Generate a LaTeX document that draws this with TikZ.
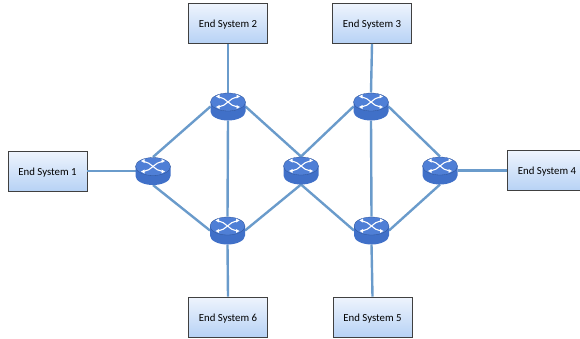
\documentclass[tikz,border=0pt]{standalone}
\usepackage{fontspec}
\setmainfont{Carlito}
\usetikzlibrary{shadows}
\definecolor{linkblue}{HTML}{6A9BCB}
\definecolor{routertop}{HTML}{4F7FD6}
\definecolor{routerside}{HTML}{4070C8}
\definecolor{boxtop}{HTML}{EEF4FD}
\definecolor{boxbot}{HTML}{B7D2F5}
\newcommand{\esys}[1]{\raisebox{0pt}[8.8pt][0pt]{#1}}
\tikzset{
  x=1pt,y=-1pt,
  endsys/.style={draw=black!75,line width=0.9pt,top color=boxtop,bottom color=boxbot,
    minimum width=79pt,minimum height=40pt,inner sep=0pt,font=\fontsize{10.8pt}{12pt}\selectfont,
    text=black,drop shadow={shadow xshift=0.7pt,shadow yshift=-0.7pt,opacity=0.35}},
  routerbox/.style={minimum width=35pt,minimum height=28pt,inner sep=0pt,outer sep=0pt},
  link/.style={draw=linkblue,line width=2.4pt},
  glyph/.style={draw=white,line width=1.1pt,line cap=round},
  router/.pic={
    \fill[routerside] (-17.5,-4.5) -- (-17.5,5) arc[x radius=17.5,y radius=9,start angle=180,end angle=0] -- (17.5,-4.5) -- cycle;
    \draw[black!25!routerside,line width=0.3pt,fill=routertop] (0,-4.5) ellipse[x radius=17.5,y radius=9];
    \draw[glyph] (-9,-9.5) .. controls (-2,-9) and (2,0) .. (9,0.3);
    \draw[glyph] (-9,0.3) .. controls (-2,0) and (2,-9) .. (9,-9.5);
    \fill[white] (-12,-10) -- (-8.5,-12) -- (-8.5,-8) -- cycle;
    \fill[white] (12,0.5) -- (8.5,2.5) -- (8.5,-1.5) -- cycle;
    \fill[white] (-12,0.5) -- (-8.5,2.5) -- (-8.5,-1.5) -- cycle;
    \fill[white] (12,-10) -- (8.5,-12) -- (8.5,-8) -- cycle;
  }
}
\begin{document}
\begin{tikzpicture}
\useasboundingbox (0,0) rectangle (580,338);
\clip (0,0) rectangle (580,338);
\node[routerbox] (r1) at (153,171) {};
\node[routerbox] (r2) at (228,106.5) {};
\node[routerbox] (r3) at (371,106.5) {};
\node[routerbox] (r4) at (301,170.5) {};
\node[routerbox] (r5) at (440,170.5) {};
\node[routerbox] (r6) at (227.5,230.5) {};
\node[routerbox] (r7) at (371.5,230.5) {};
\node[endsys] (e1) at (47.5,171) {\esys{End System 1}};
\node[endsys] (e2) at (228,23.5) {\esys{End System 2}};
\node[endsys] (e3) at (372,23.5) {\esys{End System 3}};
\node[endsys] (e4) at (547,170.5) {\esys{End System 4}};
\node[endsys] (e5) at (372.5,317) {\esys{End System 5}};
\node[endsys] (e6) at (228,317) {\esys{End System 6}};
\draw[link] (e1.east) -- (r1.west);
\draw[link] (e4.west) -- (r5.east);
\draw[link] (e2.south) -- (r2.north);
\draw[link] (e3.south) -- (r3.north);
\draw[link] (e5.north) -- (r7.south);
\draw[link] (e6.north) -- (r6.south);
\draw[link] (r1.north) -- (r2.west);
\draw[link] (r1.south) -- (r6.west);
\draw[link] (r2.east) -- (r4.north);
\draw[link] (r6.east) -- (r4.south);
\draw[link] (r4.north) -- (r3.west);
\draw[link] (r4.south) -- (r7.west);
\draw[link] (r3.east) -- (r5.north);
\draw[link] (r7.east) -- (r5.south);
\draw[link] (r2.south) -- (r6.north);
\draw[link] (r3.south) -- (r7.north);
\foreach \r in {r1,r2,r3,r4,r5,r6,r7} \pic at (\r) {router};
\end{tikzpicture}
\end{document}
